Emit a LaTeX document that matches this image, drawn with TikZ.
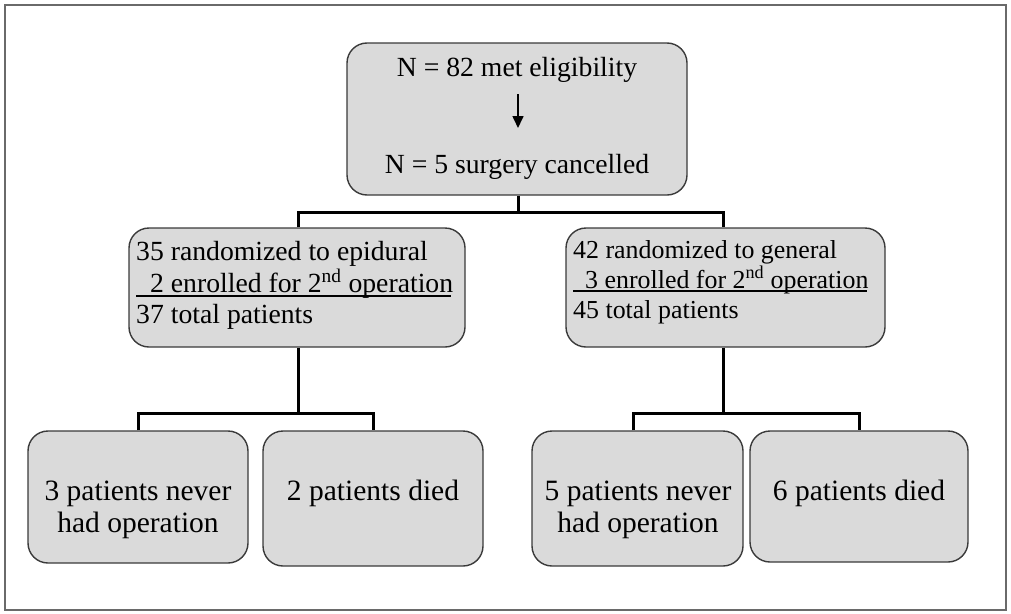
\documentclass[tikz,border=0pt]{standalone}
\usepackage{fontspec}
\setmainfont{Liberation Serif}
\usetikzlibrary{arrows.meta}
\definecolor{boxfill}{HTML}{DADADA}
\definecolor{boxline}{HTML}{3A3A3A}
\definecolor{frame}{HTML}{6A6A6A}
\tikzset{
  box/.style={draw=boxline, line width=1.4pt, fill=boxfill, rounded corners=20pt, inner sep=0pt},
  conn/.style={draw=black, line width=3pt},
  txt/.style={inner sep=0pt, font=\fontsize{27.7}{32}\selectfont},
  rtxt/.style={inner sep=0pt, font=\fontsize{25.9}{30}\selectfont},
  btxt/.style={inner sep=0pt, font=\fontsize{29.5}{34}\selectfont},
}
\begin{document}
\begin{tikzpicture}[x=1pt,y=-1pt]
\useasboundingbox (0,0) rectangle (1011,613);
\draw[frame, line width=2pt] (5,5) rectangle (1006,610);
% boxes
\node[box, minimum width=340pt, minimum height=152pt] (top) at (517,119) {};
\node[box, minimum width=336pt, minimum height=119pt] (left) at (297,287.5) {};
\node[box, minimum width=319pt, minimum height=119pt] (right) at (725.5,287.5) {};
\node[box, minimum width=220pt, minimum height=132pt] (b1) at (138,497) {};
\node[box, minimum width=220pt, minimum height=135pt] (b2) at (373,498.5) {};
\node[box, minimum width=211pt, minimum height=135pt] (b3) at (637.5,498.5) {};
\node[box, minimum width=218pt, minimum height=131pt] (b4) at (859,496.5) {};
% top texts
\node[txt, anchor=base] (t1) at (517,76) {N = 82 met eligibility};
\node[txt, anchor=base] (t2) at (517,173) {N = 5 surgery cancelled};
\coordinate (a1) at (518,94);
\coordinate (a2) at (518,128);
\draw[line width=1.6pt, -{Triangle[length=12pt,width=11pt]}] (a1) -- (a2);
% left mid texts
\node[txt, anchor=base west] (l1) at (136,260) {35 randomized to epidural};
\node[txt, anchor=base west] (l2) at (136,292) {\hspace*{14pt}2 enrolled for 2\textsuperscript{nd} operation};
\node[txt, anchor=base west] (l3) at (136,323) {37 total patients};
\coordinate (lu1) at (136,296);
\coordinate (lu2) at (451,296);
\draw[line width=1.2pt] (lu1) -- (lu2);
% right mid texts
\node[rtxt, anchor=base west] (r1) at (573,258) {42 randomized to general};
\node[rtxt, anchor=base west] (r2) at (573,288) {\hspace*{12pt}3 enrolled for 2\textsuperscript{nd} operation};
\node[rtxt, anchor=base west] (r3) at (573,318) {45 total patients};
\coordinate (ru1) at (573,291);
\coordinate (ru2) at (867,291);
\draw[line width=1.2pt] (ru1) -- (ru2);
% bottom texts
\node[btxt, anchor=base] (b1a) at (138,500) {3 patients never};
\node[btxt, anchor=base] (b1b) at (138,532) {had operation};
\node[btxt, anchor=base] (b2a) at (373,500) {2 patients died};
\node[btxt, anchor=base] (b3a) at (638,500) {5 patients never};
\node[btxt, anchor=base] (b3b) at (638,532) {had operation};
\node[btxt, anchor=base] (b4a) at (859,500) {6 patients died};
% connectors
\coordinate (j0) at (518,212);
\draw[conn] (top.south -| j0) -- (j0);
\draw[conn] (left.north -| 298,0) |- (j0) -| (right.north -| 723,0);
\coordinate (jl) at (298,413);
\draw[conn] (left.south -| jl) -- (jl);
\draw[conn] (b1.north -| 138,0) |- (jl) -| (b2.north -| 373,0);
\coordinate (jr) at (723,413);
\draw[conn] (right.south -| jr) -- (jr);
\draw[conn] (b3.north -| 633,0) |- (jr) -| (b4.north -| 859,0);
\end{tikzpicture}
\end{document}
